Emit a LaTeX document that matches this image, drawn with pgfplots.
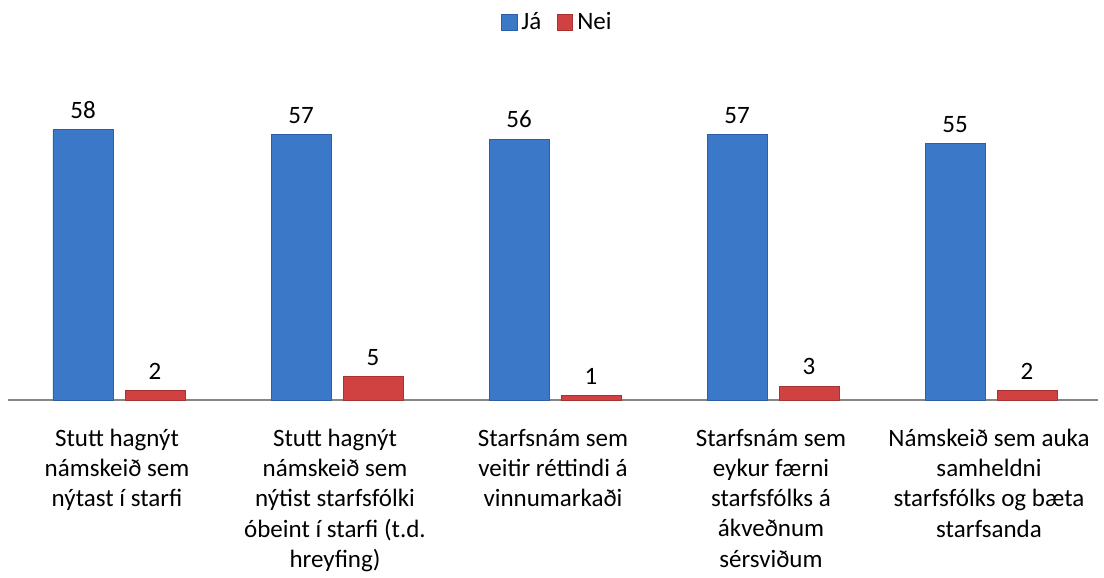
\documentclass[border=0pt]{standalone}
\usepackage{pgfplots}
\pgfplotsset{compat=1.18}
\usepackage{fontspec}
\setmainfont{Carlito}
\definecolor{bluemid}{HTML}{3B78C8}
\definecolor{bluedark}{HTML}{2C5FA6}
\definecolor{redmid}{HTML}{D04141}
\definecolor{reddark}{HTML}{A83232}
\begin{document}
\begin{tikzpicture}
\useasboundingbox (-4pt,-89pt) rectangle (548pt,200pt);
\begin{axis}[
  at={(0,0)}, anchor=south west,
  scale only axis, width=545pt, height=163pt,
  ymin=0, ymax=70, xmin=-0.5, xmax=4.5,
  axis x line*=bottom, axis y line=none,
  x axis line style={draw=gray!95, line width=0.9pt, -},
  xtick={0,1,2,3,4}, major tick length=0pt,
  xticklabels={{Stutt hagnýt\\námskeið sem\\nýtast í starfi},
    {Stutt hagnýt\\námskeið sem\\nýtist starfsfólki\\óbeint í starfi (t.d.\\hreyfing)},
    {Starfsnám sem\\veitir réttindi á\\vinnumarkaði},
    {Starfsnám sem\\eykur færni\\starfsfólks á\\ákveðnum\\sérsviðum},
    {Námskeið sem auka\\samheldni\\starfsfólks og bæta\\starfsanda}},
  xticklabel style={align=center, font=\fontsize{12.5}{15.1}\selectfont, anchor=north, yshift=-11pt},
  ybar, bar width=30pt,
  nodes near coords,
  nodes near coords style={font=\fontsize{12.5}{14}\selectfont, black, yshift=2pt},
  /pgf/number format/assume math mode=true,
  legend columns=2,
  legend style={at={(0.505,1.215)}, anchor=north, draw=none, fill=none,
    font=\fontsize{12.5}{14}\selectfont,
    /tikz/every even column/.append style={column sep=6pt}},
  legend image code/.code={\path[#1] (0pt,-3.8pt) rectangle (7.6pt,3.8pt);},
  clip=false,
]
\addplot[bar shift=-17pt, fill=bluemid, draw=bluedark, line width=0.4pt]
  coordinates {(0,58) (1,57) (2,56) (3,57) (4,55)};
\addplot[bar shift=19pt, fill=redmid, draw=reddark, line width=0.4pt]
  coordinates {(0,2) (1,5) (2,1) (3,3) (4,2)};
\legend{Já, Nei}
\end{axis}
\end{tikzpicture}
\end{document}
